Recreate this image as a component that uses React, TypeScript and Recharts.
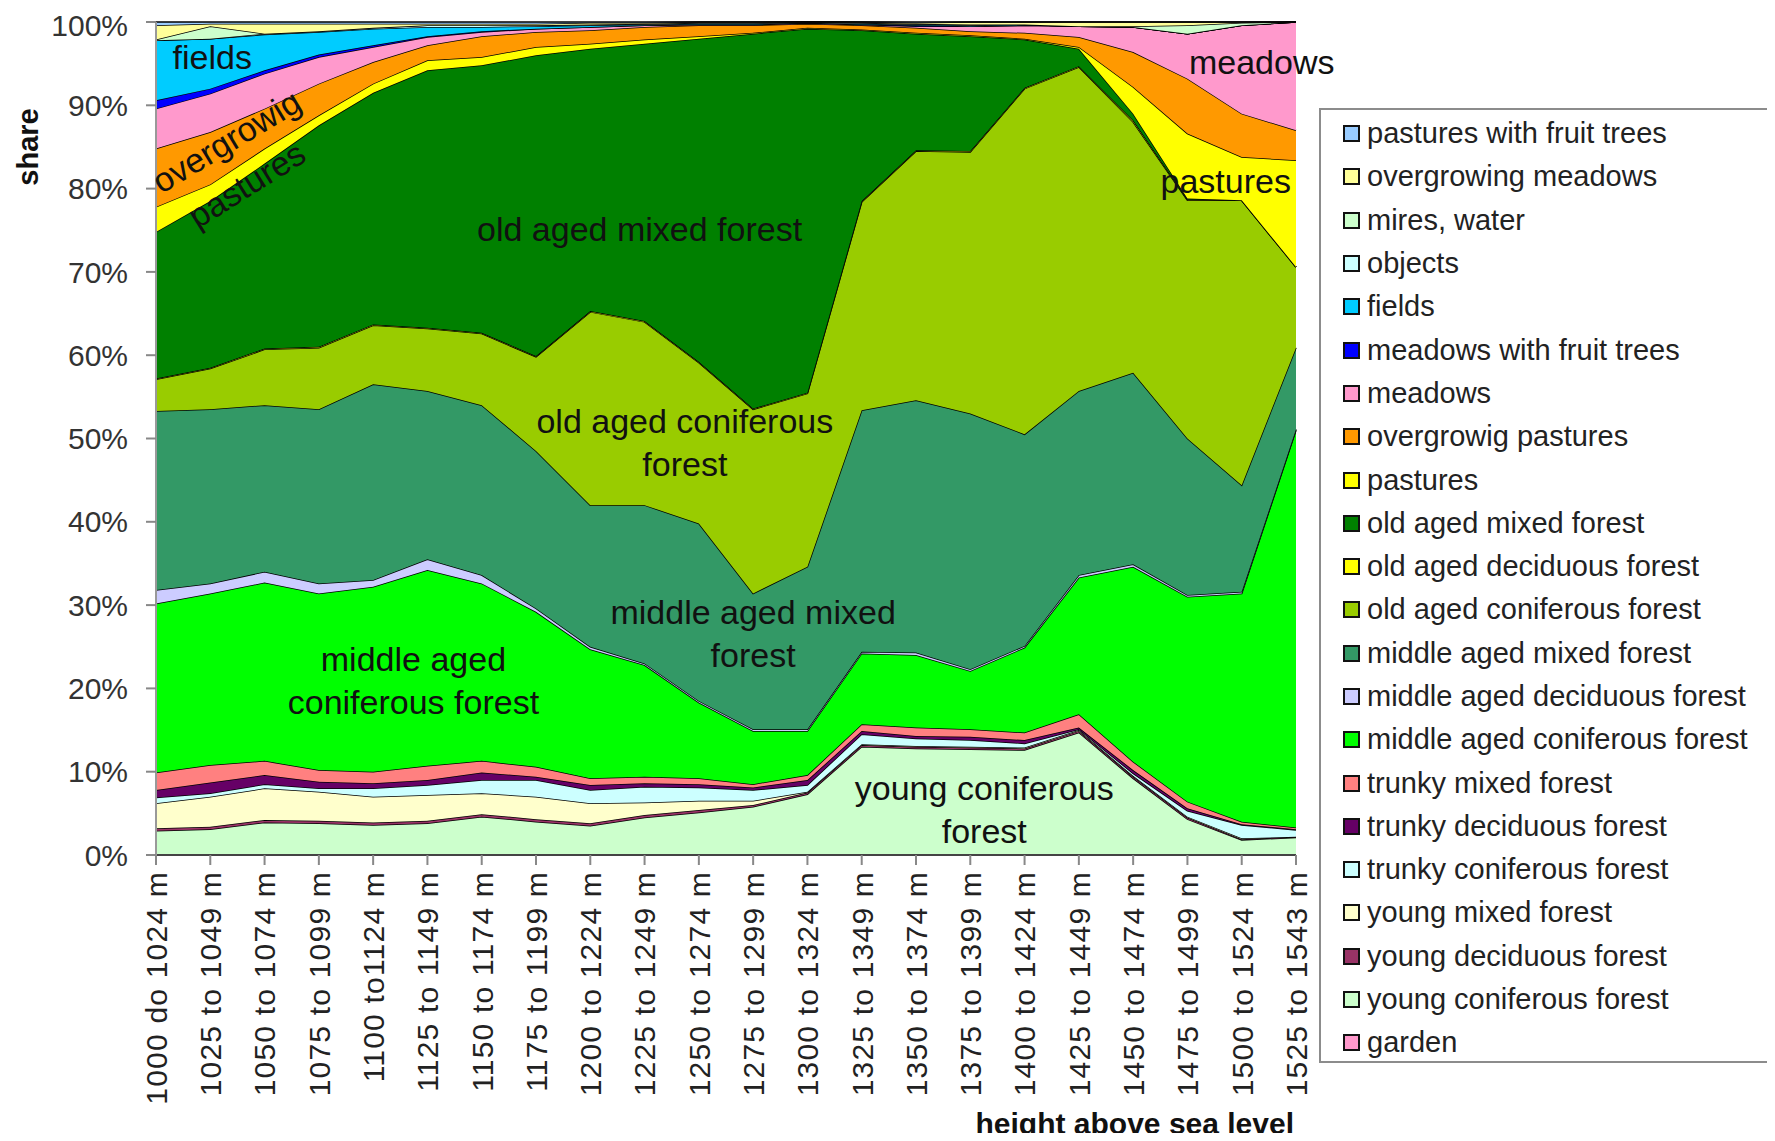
import React from 'react';
import { AreaChart, Area, XAxis, YAxis, ReferenceDot } from 'recharts';

const categories = [
  '1000 do 1024 m', '1025 to 1049 m', '1050 to 1074 m', '1075 to 1099 m', '1100 to1124 m',
  '1125 to 1149 m', '1150 to 1174 m', '1175 to 1199 m', '1200 to 1224 m', '1225 to 1249 m',
  '1250 to 1274 m', '1275 to 1299 m', '1300 to 1324 m', '1325 to 1349 m', '1350 to 1374 m',
  '1375 to 1399 m', '1400 to 1424 m', '1425 to 1449 m', '1450 to 1474 m', '1475 to 1499 m',
  '1500 to 1524 m', '1525 to 1543 m',
];

// shares in % per height band, bottom of the stack first
const garden = [0, 0, 0, 0, 0, 0, 0, 0, 0, 0, 0, 0, 0, 0, 0, 0, 0, 0, 0, 0, 0, 0];
const youngConiferous = [2.9, 3.1, 3.9, 3.8, 3.6, 3.8, 4.6, 4.0, 3.5, 4.5, 5.1, 5.8, 7.3, 13.0, 12.8, 12.7, 12.6, 14.7, 9.2, 4.3, 1.8, 2.1];
const youngDeciduous = [0.3, 0.3, 0.3, 0.3, 0.3, 0.3, 0.3, 0.3, 0.3, 0.3, 0.3, 0.2, 0.2, 0.2, 0.2, 0.2, 0.2, 0.2, 0.2, 0.2, 0.1, 0.1];
const youngMixed = [3.0, 3.6, 3.8, 3.5, 3.1, 3.1, 2.5, 2.7, 2.4, 1.5, 1.1, 0.5, 0.1, 0.1, 0.1, 0.1, 0.1, 0.1, 0.1, 0.1, 0.1, 0];
const trunkyConiferous = [0.7, 0.4, 0.5, 0.4, 1.0, 1.2, 1.6, 2.0, 1.6, 1.9, 1.6, 1.3, 0.8, 1.2, 0.9, 0.8, 0.5, 0.1, 0.3, 0.7, 1.6, 0.8];
const trunkyDeciduous = [0.9, 1.3, 1.1, 0.8, 0.6, 0.6, 0.9, 0.4, 0.6, 0.4, 0.4, 0.3, 0.6, 0.4, 0.3, 0.4, 0.4, 0.2, 0.4, 0.3, 0.1, 0.1];
const trunkyMixed = [2.1, 2.1, 1.7, 1.4, 1.4, 1.7, 1.4, 1.2, 0.8, 0.8, 0.7, 0.4, 0.6, 0.8, 1.0, 0.9, 0.9, 1.6, 1.0, 0.8, 0.3, 0.2];
const middleConiferous = [20.3, 20.6, 21.4, 21.2, 22.2, 23.5, 21.3, 18.6, 15.5, 13.4, 9.1, 6.4, 5.3, 8.5, 8.7, 7.0, 10.2, 16.4, 23.4, 24.6, 27.4, 47.7];
const middleDeciduous = [1.6, 1.2, 1.3, 1.2, 0.8, 1.3, 1.0, 0.4, 0.3, 0.2, 0.2, 0.2, 0.2, 0.2, 0.3, 0.2, 0.2, 0.3, 0.3, 0.2, 0.2, 0.1];
const middleMixed = [21.5, 20.9, 20.0, 20.9, 23.5, 20.2, 20.4, 18.9, 17.0, 19.0, 21.3, 16.3, 19.5, 29.0, 30.3, 30.7, 25.4, 22.1, 23.0, 18.8, 12.8, 9.8];
const oldConiferous = [3.8, 4.9, 6.7, 7.4, 7.1, 7.5, 8.6, 11.3, 23.2, 22.0, 19.3, 22.1, 20.8, 25.0, 29.9, 31.4, 41.5, 38.9, 30.1, 28.6, 34.2, 9.7];
const oldDeciduous = [0.1, 0.1, 0.1, 0.1, 0.1, 0.1, 0.1, 0.1, 0.1, 0.1, 0.1, 0.1, 0.1, 0.1, 0.1, 0.1, 0.1, 0.1, 0.2, 0.1, 0, 0];
const oldMixed = [17.6, 20.0, 22.2, 26.6, 27.8, 30.9, 32.1, 36.1, 31.5, 33.3, 38.8, 45.0, 43.7, 20.5, 14.0, 13.8, 5.8, 2.1, 0.8, 0.1, 0, 0];
const pastures = [3.0, 2.0, 1.8, 1.2, 1.1, 1.2, 1.0, 1.0, 0.6, 0.5, 0.3, 0.1, 0.1, 0.1, 0.1, 0.1, 0.1, 0.2, 3.2, 7.8, 5.2, 12.8];
const overgrowigPastures = [7.0, 6.3, 4.8, 3.8, 2.6, 1.8, 2.5, 1.8, 1.6, 1.5, 1.3, 0.9, 0.5, 0.5, 0.6, 0.5, 0.7, 1.2, 4.2, 6.6, 5.2, 3.6];
const meadows = [4.8, 4.6, 4.2, 3.2, 1.8, 1.0, 0.5, 0.4, 0.4, 0.2, 0.1, 0.1, 0.1, 0.1, 0.2, 0.6, 0.9, 1.3, 3.0, 5.4, 10.6, 13.0];
const meadowsFruit = [1.0, 0.6, 0.4, 0.3, 0.2, 0.1, 0.1, 0, 0, 0, 0, 0, 0, 0, 0.1, 0, 0, 0, 0, 0, 0, 0];
const fields = [7.2, 6.0, 4.3, 2.7, 2.0, 1.1, 0.5, 0.3, 0.2, 0.1, 0.1, 0.1, 0, 0.1, 0.1, 0.1, 0.1, 0, 0, 0, 0, 0];
const objects = [0, 0, 0.1, 0.1, 0.1, 0.2, 0.2, 0.1, 0.1, 0.1, 0.1, 0.1, 0.1, 0.1, 0.1, 0.1, 0, 0, 0, 0, 0, 0];
const mires = [0.1, 1.5, 0, 0, 0, 0, 0, 0, 0, 0, 0, 0, 0, 0, 0, 0, 0, 0, 0.1, 1.0, 0.3, 0];
const overgrowingMeadows = [1.7, 0.3, 1.2, 0.9, 0.5, 0.2, 0.2, 0.2, 0.2, 0.1, 0.1, 0.1, 0, 0.1, 0.1, 0.3, 0.3, 0.5, 0.5, 0.4, 0.1, 0];
const pasturesFruit = [0.4, 0.2, 0.2, 0.2, 0.2, 0.2, 0.2, 0.2, 0.1, 0.1, 0, 0, 0, 0, 0.1, 0, 0, 0, 0, 0, 0, 0];

const yTicks = [0, 0.1, 0.2, 0.3, 0.4, 0.5, 0.6, 0.7, 0.8, 0.9, 1];

const series = [
  { key: 'garden', name: 'garden', color: '#FF99CC', values: garden },
  { key: 'ycf', name: 'young coniferous forest', color: '#CCFFCC', values: youngConiferous },
  { key: 'ydf', name: 'young deciduous forest', color: '#993366', values: youngDeciduous },
  { key: 'ymf', name: 'young mixed forest', color: '#FFFFCC', values: youngMixed },
  { key: 'tcf', name: 'trunky coniferous forest', color: '#CCFFFF', values: trunkyConiferous },
  { key: 'tdf', name: 'trunky deciduous forest', color: '#660066', values: trunkyDeciduous },
  { key: 'tmf', name: 'trunky mixed forest', color: '#FF8080', values: trunkyMixed },
  { key: 'mcf', name: 'middle aged coniferous forest', color: '#00FF00', values: middleConiferous },
  { key: 'mdf', name: 'middle aged deciduous forest', color: '#CCCCFF', values: middleDeciduous },
  { key: 'mmf', name: 'middle aged mixed forest', color: '#339966', values: middleMixed },
  { key: 'ocf', name: 'old aged coniferous forest', color: '#99CC00', values: oldConiferous },
  { key: 'odf', name: 'old aged deciduous forest', color: '#FFFF00', values: oldDeciduous },
  { key: 'omf', name: 'old aged mixed forest', color: '#008000', values: oldMixed },
  { key: 'pas', name: 'pastures', color: '#FFFF00', values: pastures },
  { key: 'ogp', name: 'overgrowig pastures', color: '#FF9900', values: overgrowigPastures },
  { key: 'mea', name: 'meadows', color: '#FF99CC', values: meadows },
  { key: 'mwf', name: 'meadows with fruit trees', color: '#0000FF', values: meadowsFruit },
  { key: 'fie', name: 'fields', color: '#00CCFF', values: fields },
  { key: 'obj', name: 'objects', color: '#CCFFFF', values: objects },
  { key: 'mir', name: 'mires, water', color: '#CCFFCC', values: mires },
  { key: 'ogm', name: 'overgrowing meadows', color: '#FFFF99', values: overgrowingMeadows },
  { key: 'pwf', name: 'pastures with fruit trees', color: '#99CCFF', values: pasturesFruit },
];

const rows = categories.map((cat, i) => {
  const row: Record<string, string | number> = { cat };
  series.forEach((s) => {
    row[s.key] = s.values[i];
  });
  return row;
});

// in-chart captions, anchored on a category and a share
const notes = [
  { cat: 1, y: 0.958, dx: 2, rot: 0, lines: ['fields'] },
  { cat: 1, y: 0.857, dx: 16, rot: -31, lines: ['overgrowig'] },
  { cat: 2, y: 0.805, dx: -18, rot: -32, lines: ['pastures'] },
  { cat: 9, y: 0.751, dx: -5, rot: 0, lines: ['old aged mixed forest'] },
  { cat: 10, y: 0.495, dx: -14, rot: 0, lines: ['old aged coniferous', 'forest'] },
  { cat: 11, y: 0.266, dx: 0, rot: 0, lines: ['middle aged mixed', 'forest'] },
  { cat: 5, y: 0.2095, dx: -14, rot: 0, lines: ['middle aged', 'coniferous forest'] },
  { cat: 15, y: 0.0545, dx: 14, rot: 0, lines: ['young coniferous', 'forest'] },
  { cat: 20, y: 0.952, dx: 20, rot: 0, lines: ['meadows'] },
  { cat: 20, y: 0.809, dx: -16, rot: 0, lines: ['pastures'] },
];

const FONT = '"Liberation Sans", Arial, sans-serif';

const XTick = ({ x, y, payload }: any) => (
  <g transform={`translate(${x},${y})`}>
    <text transform="rotate(-90)" textAnchor="end" dy="0.36em" fontSize={30} fill="#222" letterSpacing={1.2}>
      {payload.value}
    </text>
  </g>
);

const NoteShape = (props: any, note: (typeof notes)[number]) => {
  const cx = props.cx + note.dx;
  const cy = props.cy;
  const lh = 43;
  const start = -((note.lines.length - 1) * lh) / 2;
  return (
    <text
      x={cx}
      y={cy}
      textAnchor="middle"
      fontSize={34}
      fill="#111"
      transform={note.rot ? `rotate(${note.rot},${cx},${cy})` : undefined}
    >
      {note.lines.map((line, i) => (
        <tspan key={i} x={cx} dy={i === 0 ? start + 12 : lh}>
          {line}
        </tspan>
      ))}
    </text>
  );
};

const legendItems = [...series].reverse();

const App: React.FC = () => {
  return (
    <div style={{ position: 'relative', width: 1759, height: 1125, fontFamily: FONT }}>
      <AreaChart
        width={1420}
        height={1125}
        data={rows}
        stackOffset="expand"
        margin={{ top: 14, right: 132, bottom: 18, left: 28 }}
      >
        <XAxis
          dataKey="cat"
          interval={0}
          height={260}
          tick={<XTick />}
          tickSize={10}
          tickMargin={6}
          tickLine={{ stroke: '#888', strokeWidth: 2 }}
          axisLine={{ stroke: '#444', strokeWidth: 2 }}
        />
        <YAxis
          domain={[0, 1]}
          ticks={yTicks}
          width={120}
          tickSize={10}
          tickMargin={18}
          tickFormatter={(v: number) => `${Math.round(v * 100)}%`}
          tick={{ fontSize: 30, fill: '#333' }}
          tickLine={{ stroke: '#888', strokeWidth: 2 }}
          axisLine={{ stroke: '#999', strokeWidth: 2 }}
        />
        {series.map((s) => (
          <Area
            key={s.key}
            type="linear"
            dataKey={s.key}
            name={s.name}
            stackId="1"
            fill={s.color}
            fillOpacity={1}
            stroke="#000"
            strokeWidth={1.5}
            dot={false}
            activeDot={false}
            isAnimationActive={false}
          />
        ))}
        {notes.map((n, i) => (
          <ReferenceDot
            key={i}
            x={categories[n.cat]}
            y={n.y}
            r={0}
            ifOverflow="visible"
            shape={(p: any) => NoteShape(p, n)}
          />
        ))}
      </AreaChart>

      <div
        style={{
          position: 'absolute',
          left: 20,
          top: 139,
          transform: 'translate(-50%, -50%) rotate(-90deg)',
          fontWeight: 'bold',
          fontSize: 29,
          color: '#111',
          whiteSpace: 'nowrap',
        }}
      >
        share
      </div>
      <div
        style={{
          position: 'absolute',
          left: 0,
          width: 1286,
          top: 1101,
          lineHeight: '30px',
          textAlign: 'right',
          fontWeight: 'bold',
          fontSize: 30,
          color: '#111',
          whiteSpace: 'nowrap',
        }}
      >
        height above sea level
      </div>

      <div
        style={{
          position: 'absolute',
          left: 1311,
          top: 100,
          width: 448,
          height: 955,
          borderTop: '2px solid #8c8c8c',
          borderLeft: '2px solid #8c8c8c',
          borderBottom: '2px solid #8c8c8c',
          boxSizing: 'border-box',
          paddingTop: 2,
          background: '#fff',
        }}
      >
        {legendItems.map((s) => (
          <div key={s.key} style={{ height: 43.3, display: 'flex', alignItems: 'center', whiteSpace: 'nowrap' }}>
            <span
              style={{
                display: 'inline-block',
                width: 13,
                height: 13,
                marginLeft: 22,
                marginRight: 7,
                background: s.color,
                border: '2px solid #111',
              }}
            />
            <span style={{ fontSize: 29, color: '#222' }}>{s.name}</span>
          </div>
        ))}
      </div>
    </div>
  );
};

export default App;
